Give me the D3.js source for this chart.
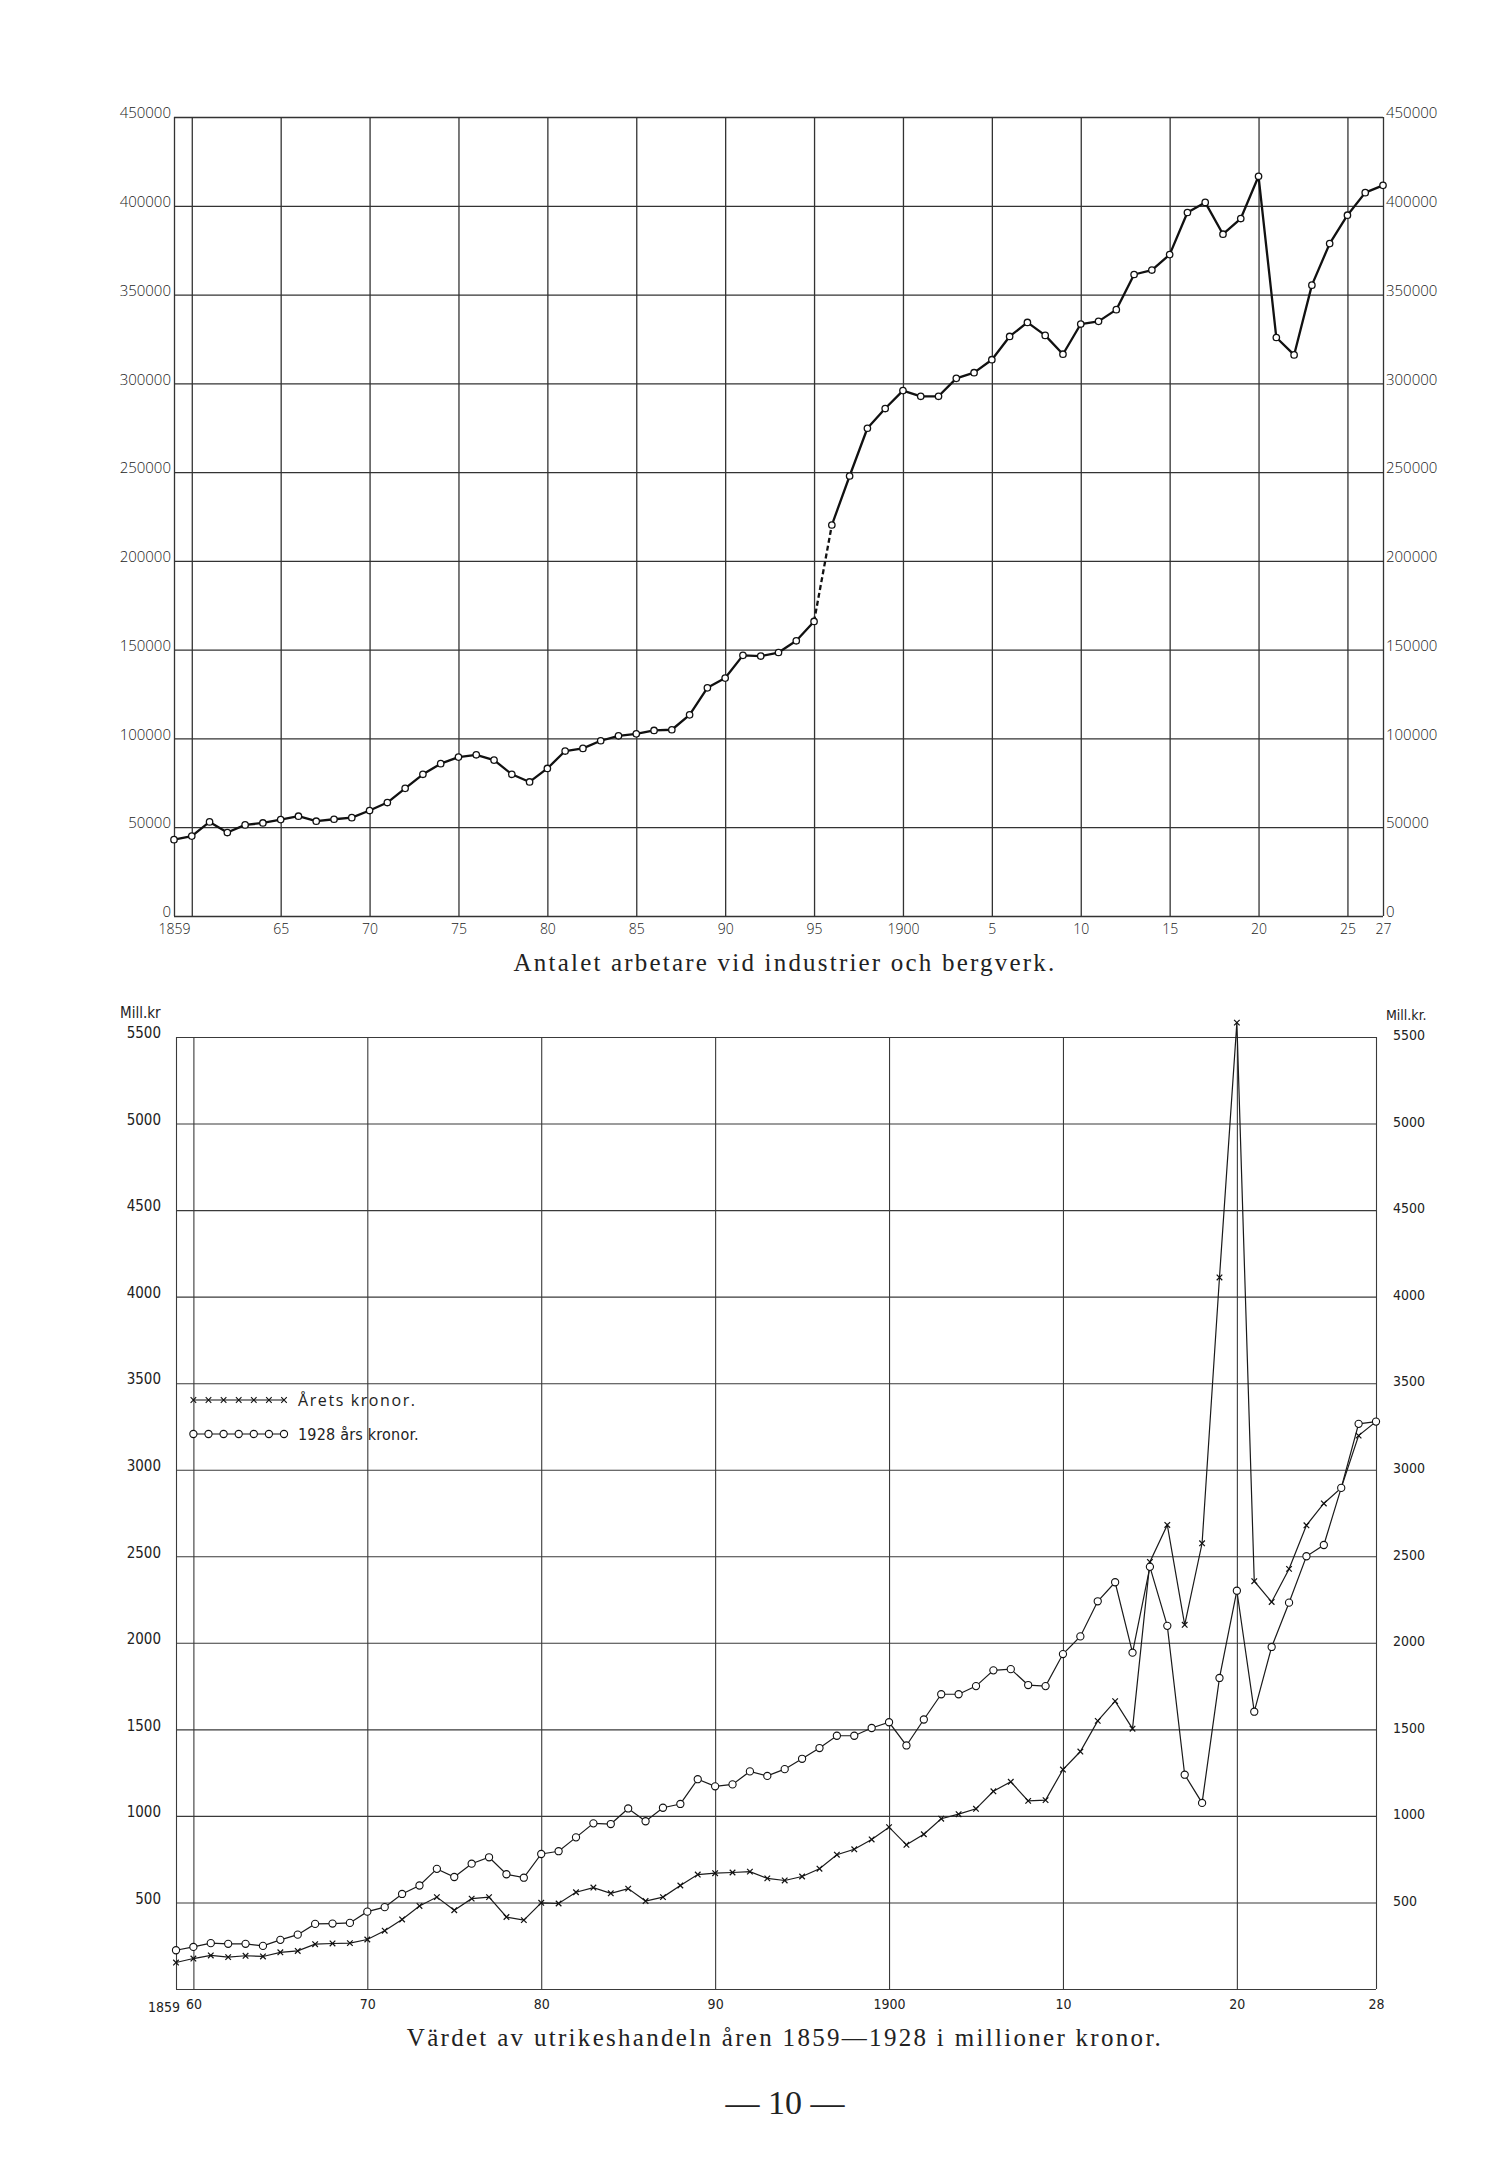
<!DOCTYPE html>
<html>
<head>
<meta charset="utf-8">
<script src="https://cdn.jsdelivr.net/npm/d3@7"></script>
<style>
body { margin: 0; background: #fff; }
svg text { fill: #222; }
</style>
</head>
<body>
<div id="page"></div>
<script>
// ---- data ----
// Antalet arbetare vid industrier och bergverk, 1859-1927
let workerFirstYear = 1859;
let workerValues = [
  43000, 45000, 53000, 47000, 51300, 52400, 54300, 56200, 53400, 54500,
  55400, 59400, 63900, 71900, 79800, 85800, 89500, 90800, 87800, 79800,
  75500, 83100, 92900, 94400, 98700, 101500, 102600, 104500, 104900, 113300,
  128500, 134000, 146800, 146400, 148400, 155000, 165900, 220200, 247800, 274700,
  285800, 295900, 292700, 292700, 302800, 306000, 313300, 326400, 334300, 327000,
  316400, 333400, 334900, 341500, 361300, 363800, 372500, 396200, 401900, 384000,
  392800, 416600, 325800, 316000, 355300, 378700, 394700, 407400, 411500
];
// the 1895-1896 step is drawn dashed
let workerDashedFrom = 1895;

let workerYTicks = [0, 50000, 100000, 150000, 200000, 250000, 300000, 350000, 400000, 450000];
let workerXGrid = [1859, 1860, 1865, 1870, 1875, 1880, 1885, 1890, 1895, 1900, 1905, 1910, 1915, 1920, 1925, 1927];
let workerXTicks = [1859, 1865, 1870, 1875, 1880, 1885, 1890, 1895, 1900, 1905, 1910, 1915, 1920, 1925, 1927];
let workerXLabels = ["1859", "65", "70", "75", "80", "85", "90", "95", "1900", "5", "10", "15", "20", "25", "27"];

// Värdet av utrikeshandeln 1859-1928, mill. kr
let tradeFirstYear = 1859;
let tradeCurrent = [   // Årets kronor (x)
  153, 176, 194, 184, 192, 188, 212, 220, 259, 263,
  265, 286, 337, 402, 480, 531, 455, 522, 531, 416,
  398, 498, 494, 559, 586, 553, 580, 508, 531, 598,
  661, 669, 673, 678, 639, 627, 650, 695, 776, 807,
  864, 935, 833, 894, 984, 1010, 1041, 1142, 1197, 1087,
  1091, 1268, 1372, 1549, 1663, 1504, 2467, 2681, 2104, 2575,
  4111, 5583, 2356, 2236, 2427, 2679, 2805, 2895, 3197, 3278
];
let tradeFixed = [     // 1928 års kronor (o)
  224, 243, 265, 261, 261, 249, 284, 314, 376, 378,
  382, 447, 473, 549, 598, 694, 647, 724, 761, 663,
  643, 780, 796, 876, 957, 953, 1043, 969, 1047, 1069,
  1212, 1171, 1182, 1257, 1231, 1270, 1330, 1392, 1463, 1463,
  1508, 1541, 1407, 1557, 1703, 1703, 1750, 1841, 1848, 1756,
  1750, 1935, 2037, 2240, 2350, 1943, 2439, 2098, 1238, 1075,
  1797, 2301, 1602, 1976, 2232, 2500, 2565, 2895, 3265, 3278
];
let tradeYTicks = [0, 500, 1000, 1500, 2000, 2500, 3000, 3500, 4000, 4500, 5000, 5500];
let tradeXGrid = [1859, 1860, 1870, 1880, 1890, 1900, 1910, 1920, 1928];
let tradeXTicks = [1860, 1870, 1880, 1890, 1900, 1910, 1920, 1928];
let tradeXLabels = ["60", "70", "80", "90", "1900", "10", "20", "28"];
let tradeLegend = ["Årets  kronor.", "1928 års kronor."];

// ---- page ----
let svg = d3.select("#page")
  .append("svg")
  .attr("width", 1500)
  .attr("height", 2171);

let labelFont = "'Open Sans', 'DejaVu Sans', sans-serif";
let smallFont = "'DejaVu Sans Condensed', 'DejaVu Sans', sans-serif";
let serifFont = "'Liberation Serif', 'DejaVu Serif', serif";

function gridAndAxes(g, x, y, xGrid, yTicks) {
  let w = x.range()[1] - x.range()[0];
  let h = y.range()[0] - y.range()[1];

  // horizontal lines
  g.append("g")
    .attr("transform", `translate(${x.range()[0]},0)`)
    .call(d3.axisLeft(y).tickValues(yTicks).tickSize(-w).tickFormat(""))
    .call(a => a.select(".domain").remove())
    .selectAll("line").attr("stroke", "#333").attr("stroke-width", 1.3);

  // vertical lines
  g.append("g")
    .attr("transform", `translate(0,${y.range()[0]})`)
    .call(d3.axisBottom(x).tickValues(xGrid).tickSize(-h).tickFormat(""))
    .call(a => a.select(".domain").remove())
    .selectAll("line").attr("stroke", "#333").attr("stroke-width", 1.3);
}

// ================= top chart =================
let xW = d3.scaleLinear().domain([1859, 1927]).range([174, 1383]);
let yW = d3.scaleLinear().domain([0, 450000]).range([916, 117]);

let topChart = svg.append("g");
gridAndAxes(topChart, xW, yW, workerXGrid, workerYTicks);

// y labels, left and right
topChart.append("g")
  .attr("transform", `translate(${xW.range()[0]},0)`)
  .call(d3.axisLeft(yW).tickValues(workerYTicks).tickSize(0).tickPadding(3).tickFormat(d3.format("d")))
  .call(a => a.select(".domain").remove())
  .selectAll("text")
  .attr("font-family", labelFont).attr("font-weight", 300).attr("font-size", 15)
  .attr("fill", "#111")
  .attr("dy", "0.05em");

topChart.append("g")
  .attr("transform", `translate(${xW.range()[1]},0)`)
  .call(d3.axisRight(yW).tickValues(workerYTicks).tickSize(0).tickPadding(3).tickFormat(d3.format("d")))
  .call(a => a.select(".domain").remove())
  .selectAll("text")
  .attr("font-family", labelFont).attr("font-weight", 300).attr("font-size", 15)
  .attr("fill", "#111")
  .attr("dy", "0.05em");

// x labels
topChart.append("g")
  .attr("transform", `translate(0,${yW.range()[0]})`)
  .call(d3.axisBottom(xW).tickValues(workerXTicks).tickSize(0).tickPadding(8)
    .tickFormat((d, i) => workerXLabels[i]))
  .call(a => a.select(".domain").remove())
  .selectAll("text")
  .attr("font-family", labelFont).attr("font-weight", 300).attr("font-size", 14)
  .attr("fill", "#111");

let workers = workerValues.map((v, i) => ({ year: workerFirstYear + i, value: v }));
let wLine = d3.line().x(d => xW(d.year)).y(d => yW(d.value));

let solidA = workers.filter(d => d.year <= workerDashedFrom);
let dashed = workers.filter(d => d.year >= workerDashedFrom && d.year <= workerDashedFrom + 1);
let solidB = workers.filter(d => d.year > workerDashedFrom);

[solidA, solidB].forEach(part => {
  topChart.append("path")
    .datum(part)
    .attr("d", wLine)
    .attr("fill", "none")
    .attr("stroke", "#111")
    .attr("stroke-width", 2.3)
    .attr("stroke-linejoin", "round");
});
topChart.append("path")
  .datum(dashed)
  .attr("d", wLine)
  .attr("fill", "none")
  .attr("stroke", "#111")
  .attr("stroke-width", 2.3)
  .attr("stroke-dasharray", "5,3");

topChart.selectAll("circle.w")
  .data(workers)
  .enter()
  .append("circle")
  .attr("class", "w")
  .attr("cx", d => xW(d.year))
  .attr("cy", d => yW(d.value))
  .attr("r", 3.2)
  .attr("fill", "#fff")
  .attr("stroke", "#111")
  .attr("stroke-width", 1.3);

topChart.append("text")
  .attr("x", 785)
  .attr("y", 971)
  .attr("text-anchor", "middle")
  .attr("font-family", serifFont)
  .attr("font-size", 25)
  .attr("letter-spacing", 2.2)
  .text("Antalet arbetare vid industrier och bergverk.");

// ================= bottom chart =================
let xT = d3.scaleLinear().domain([1859, 1928]).range([176, 1376]);
let yT = d3.scaleLinear().domain([0, 5500]).range([1989, 1037]);

let bottomChart = svg.append("g");
gridAndAxes(bottomChart, xT, yT, tradeXGrid, tradeYTicks);
bottomChart.selectAll("line").attr("stroke-width", 1.1).attr("stroke", "#3a3a3a");

let yLabelTicks = tradeYTicks.filter(d => d > 0);

bottomChart.append("g")
  .attr("transform", `translate(${xT.range()[0]},0)`)
  .call(d3.axisLeft(yT).tickValues(yLabelTicks).tickSize(0).tickPadding(15).tickFormat(d3.format("d")))
  .call(a => a.select(".domain").remove())
  .selectAll("text")
  .attr("font-family", smallFont).attr("font-size", 15)
  .attr("fill", "#111")
  .attr("dy", "0.05em");

bottomChart.append("g")
  .attr("transform", `translate(${xT.range()[1]},0)`)
  .call(d3.axisRight(yT).tickValues(yLabelTicks).tickSize(0).tickPadding(17).tickFormat(d3.format("d")))
  .call(a => a.select(".domain").remove())
  .selectAll("text")
  .attr("font-family", smallFont).attr("font-size", 14)
  .attr("fill", "#111")
  .attr("dy", "0.2em");

bottomChart.append("text")
  .attr("x", 120).attr("y", 1018)
  .attr("font-family", smallFont).attr("font-size", 15)
  .attr("fill", "#111")
  .text("Mill.kr");
bottomChart.append("text")
  .attr("x", 1386).attr("y", 1020)
  .attr("font-family", smallFont).attr("font-size", 14)
  .attr("fill", "#111")
  .text("Mill.kr.");

// x labels
bottomChart.append("g")
  .attr("transform", `translate(0,${yT.range()[0]})`)
  .call(d3.axisBottom(xT).tickValues(tradeXTicks).tickSize(0).tickPadding(10)
    .tickFormat((d, i) => tradeXLabels[i]))
  .call(a => a.select(".domain").remove())
  .selectAll("text")
  .attr("font-family", smallFont).attr("font-size", 14)
  .attr("fill", "#111");
bottomChart.append("text")
  .attr("x", xT(1859) + 4).attr("y", yT(0) + 23)
  .attr("text-anchor", "end")
  .attr("font-family", smallFont).attr("font-size", 14)
  .attr("fill", "#111")
  .text("1859");

let current = tradeCurrent.map((v, i) => ({ year: tradeFirstYear + i, value: v }));
let fixed = tradeFixed.map((v, i) => ({ year: tradeFirstYear + i, value: v }));
let tLine = d3.line().x(d => xT(d.year)).y(d => yT(d.value));

[current, fixed].forEach(series => {
  bottomChart.append("path")
    .datum(series)
    .attr("d", tLine)
    .attr("fill", "none")
    .attr("stroke", "#1a1a1a")
    .attr("stroke-width", 1.2);
});

let cross = d3.symbol().type(d3.symbolTimes || d3.symbolX).size(22);

bottomChart.selectAll("path.x")
  .data(current)
  .enter()
  .append("path")
  .attr("class", "x")
  .attr("d", cross)
  .attr("transform", d => `translate(${xT(d.year)},${yT(d.value)})`)
  .attr("fill", "none")
  .attr("stroke", "#111")
  .attr("stroke-width", 1.2);

bottomChart.selectAll("circle.o")
  .data(fixed)
  .enter()
  .append("circle")
  .attr("class", "o")
  .attr("cx", d => xT(d.year))
  .attr("cy", d => yT(d.value))
  .attr("r", 3.6)
  .attr("fill", "#fff")
  .attr("stroke", "#111")
  .attr("stroke-width", 1.1);

// legend
let legendX0 = xT(1860), legendX1 = 284;
let legendY = [1400, 1434];
let legendSteps = d3.range(7).map(i => legendX0 + (legendX1 - legendX0) * i / 6);

let lg = bottomChart.append("g");
legendY.forEach((ly, k) => {
  lg.append("line")
    .attr("x1", legendX0).attr("x2", legendX1)
    .attr("y1", ly).attr("y2", ly)
    .attr("stroke", "#111").attr("stroke-width", 1.1);
  lg.append("text")
    .attr("x", 298).attr("y", ly + 6)
    .attr("font-family", k === 0 ? labelFont : smallFont)
    .attr("font-size", 16)
    .attr("fill", "#111")
    .attr("letter-spacing", k === 0 ? 1.6 : 0.2)
    .text(tradeLegend[k]);
});
lg.selectAll("path.lx")
  .data(legendSteps)
  .enter()
  .append("path")
  .attr("d", cross)
  .attr("transform", d => `translate(${d},${legendY[0]})`)
  .attr("fill", "none").attr("stroke", "#111").attr("stroke-width", 1.1);
lg.selectAll("circle.lo")
  .data(legendSteps)
  .enter()
  .append("circle")
  .attr("cx", d => d).attr("cy", legendY[1]).attr("r", 3.6)
  .attr("fill", "#fff").attr("stroke", "#111").attr("stroke-width", 1.1);

bottomChart.append("text")
  .attr("x", 785)
  .attr("y", 2046)
  .attr("text-anchor", "middle")
  .attr("font-family", serifFont)
  .attr("font-size", 25)
  .attr("letter-spacing", 2.3)
  .text("Värdet av utrikeshandeln åren 1859—1928 i millioner kronor.");

// page number
svg.append("text")
  .attr("x", 785)
  .attr("y", 2114)
  .attr("text-anchor", "middle")
  .attr("font-family", serifFont)
  .attr("font-size", 34)
  .text("— 10 —");
</script>
</body>
</html>
